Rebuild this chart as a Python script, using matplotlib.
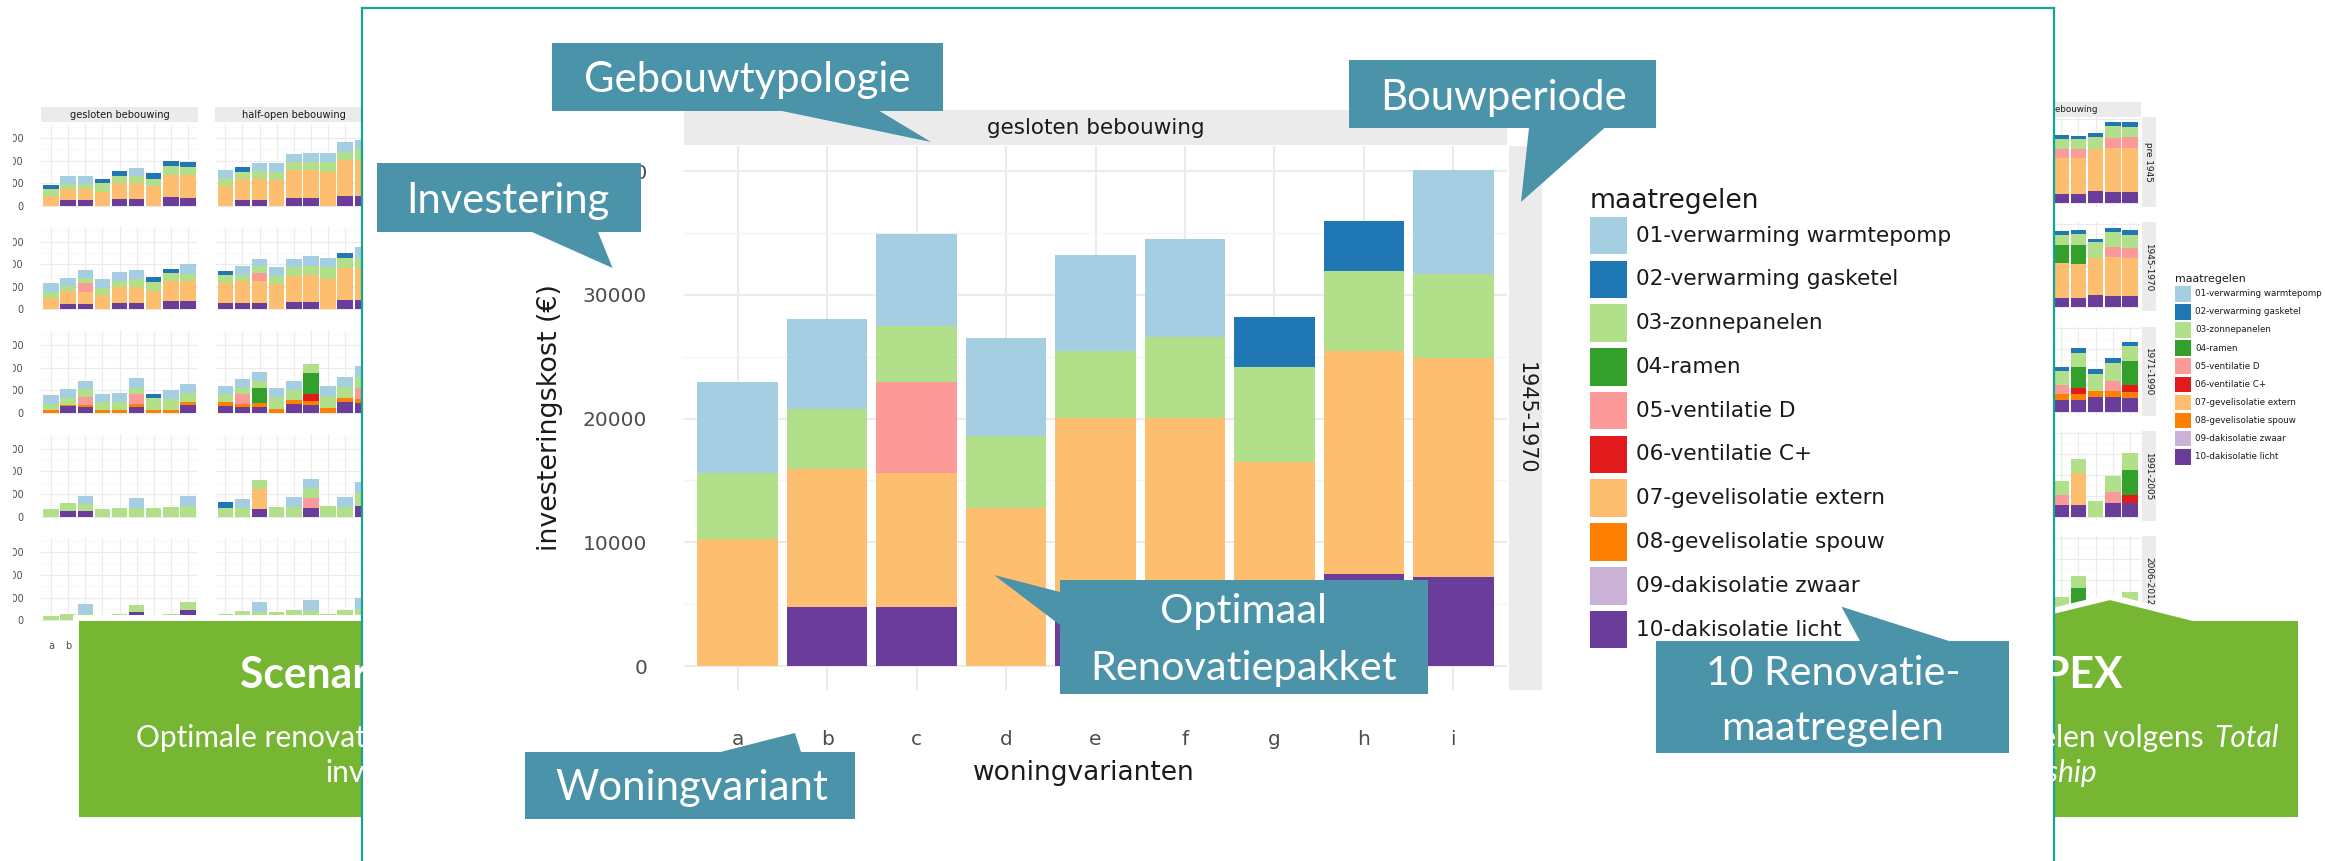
import matplotlib
matplotlib.use('Agg')
import matplotlib.pyplot as plt
from matplotlib.patches import Rectangle, Polygon
import numpy as np

W, H, DPI = 2325, 861, 100

# ---------------- categories / labels ----------------
MEASURES = ['01-verwarming warmtepomp', '02-verwarming gasketel', '03-zonnepanelen', '04-ramen',
            '05-ventilatie D', '06-ventilatie C+', '07-gevelisolatie extern', '08-gevelisolatie spouw',
            '09-dakisolatie zwaar', '10-dakisolatie licht']
COLORS = ['#A6CEE3', '#1F78B4', '#B2DF8A', '#33A02C', '#FB9A99', '#E31A1C', '#FDBF6F', '#FF7F00',
          '#CAB2D6', '#6A3D9A']
VARIANTS = ['a', 'b', 'c', 'd', 'e', 'f', 'g', 'h', 'i']
PERIODS = ['pre 1945', '1945-1970', '1971-1990', '1991-2005', '2006-2012']
MAIN_YTICKS = [0, 10000, 20000, 30000, 40000]
SMALL_YTICKS = [0, 20000, 40000, 60000]

# ---------------- main panel: gesloten bebouwing, 1945-1970 (EUR) ----------------
main_01 = [7400, 7250, 7410, 7870, 7740, 7900, 0, 0, 8440]
main_02 = [0, 0, 0, 0, 0, 0, 4040, 4040, 0]
main_03 = [5300, 4900, 4580, 5870, 5420, 6550, 7680, 6440, 6740]
main_05 = [0, 0, 7300, 0, 0, 0, 0, 0, 0]
main_07 = [10300, 11150, 10880, 12750, 14070, 14070, 16520, 18050, 17720]
main_10 = [0, 4750, 4750, 0, 6000, 6000, 0, 7440, 7200]
MAIN = {1: main_01, 2: main_02, 3: main_03, 5: main_05, 7: main_07, 10: main_10}

# ---------------- background chart left (scenario 1) ----------------
ges_pre1945 = {10: [0, 4900, 4900, 0, 5900, 5600, 0, 7500, 6900],
               7: [8500, 9800, 9800, 12100, 14100, 14400, 17100, 19700, 20300],
               3: [6200, 4300, 4900, 7900, 6600, 6600, 6900, 8200, 7500],
               2: [3600, 0, 0, 3600, 4300, 0, 4600, 4600, 3900],
               1: [0, 7500, 7200, 0, 0, 6900, 0, 0, 0]}
ges_1971 = {10: [0, 6000, 5300, 0, 0, 5700, 0, 0, 7300],
            8: [2300, 1300, 2000, 2300, 3000, 2000, 3000, 3000, 2000],
            5: [0, 0, 7000, 0, 0, 9000, 0, 0, 0],
            3: [5300, 6300, 6700, 7000, 7000, 5700, 10300, 9700, 8000],
            2: [0, 0, 0, 0, 0, 0, 3300, 0, 0],
            1: [8000, 7700, 7000, 7700, 8000, 8300, 0, 8000, 8700]}
ges_1991 = {10: [0, 5300, 5300, 0, 0, 0, 0, 0, 0],
            3: [6800, 6500, 5900, 6800, 7700, 7700, 7700, 8900, 9800],
            1: [0, 0, 7100, 0, 0, 8600, 0, 0, 8600]}
ges_2006 = {10: [0, 0, 0, 0, 0, 6800, 0, 0, 8900],
            3: [3900, 5300, 5900, 4400, 5900, 6500, 4400, 5900, 7100],
            1: [0, 0, 8300, 0, 0, 0, 0, 0, 0]}

ho_pre1945 = {10: [0, 5000, 5000, 0, 6500, 6500, 0, 8300, 8300],
              7: [17500, 18900, 18900, 23100, 25500, 24900, 29600, 32000, 32000],
              3: [6800, 6200, 6500, 6500, 6500, 7700, 9500, 7400, 9800],
              2: [0, 3900, 0, 0, 0, 0, 0, 0, 0],
              1: [7400, 0, 7100, 8000, 7700, 8000, 8000, 8600, 8300]}
ho_1945 = {10: [5300, 5300, 5300, 0, 6800, 6800, 0, 8300, 8300],
           7: [18400, 19800, 19800, 22500, 23100, 24000, 27200, 28100, 28100],
           5: [0, 0, 7400, 0, 0, 0, 0, 0, 0],
           3: [7100, 5600, 5600, 7100, 7400, 7400, 10100, 9500, 9500],
           2: [3600, 0, 0, 0, 0, 0, 0, 3600, 0],
           1: [0, 7700, 6800, 8000, 7700, 8900, 8300, 0, 9200]}
ho_1971 = {10: [6200, 5600, 5600, 0, 7700, 7100, 0, 9500, 8600],
           8: [3300, 2700, 3000, 3600, 3900, 3600, 4100, 4100, 4100],
           6: [0, 0, 0, 0, 0, 5900, 0, 0, 0],
           5: [0, 8300, 0, 0, 0, 0, 0, 0, 9200],
           4: [0, 0, 13600, 0, 0, 18400, 0, 0, 0],
           3: [7100, 5300, 6500, 10400, 8600, 8300, 10700, 9500, 10400],
           1: [7100, 8000, 7400, 7700, 8000, 0, 8900, 9200, 8900]}
ho_1991 = {10: [0, 0, 6800, 0, 0, 8000, 0, 0, 9800],
           7: [0, 0, 17800, 0, 0, 0, 0, 0, 0],
           5: [0, 0, 0, 0, 0, 8300, 0, 0, 0],
           3: [8000, 7700, 7400, 8900, 8900, 9200, 9800, 8900, 11300],
           2: [4700, 0, 0, 0, 0, 0, 0, 0, 0],
           1: [0, 7700, 0, 0, 8600, 8000, 0, 8600, 9500]}
ho_2006 = {3: [5900, 8000, 6800, 6800, 8900, 8000, 5900, 8900, 9500],
           1: [0, 0, 9200, 0, 0, 9500, 0, 0, 10100]}

# ---------------- background chart right (scenario 2), open bebouwing, variants e-i ----------------
R_VARIANTS = ['e', 'f', 'g', 'h', 'i']
op_pre1945 = {10: [8300, 8300, 11500, 10200, 10200], 7: [34100, 34800, 39600, 42400, 42400],
              5: [8600, 8300, 0, 9600, 9900], 3: [9900, 9300, 11500, 11200, 10200],
              2: [3800, 3200, 3800, 4200, 4200]}
op_1945 = {10: [8900, 8900, 12100, 10900, 10900], 7: [33200, 32200, 35100, 37300, 36400],
           5: [0, 0, 0, 9300, 9900], 4: [17900, 18800, 0, 0, 0],
           3: [9300, 9900, 15000, 14700, 12100], 2: [4200, 4200, 3500, 3800, 4500]}
op_1971 = {10: [11800, 11800, 14000, 14000, 13400], 8: [5100, 5100, 6100, 6100, 5700],
           6: [0, 5700, 0, 0, 7000], 5: [8600, 0, 0, 9600, 0], 4: [0, 20700, 0, 0, 23000],
           3: [13400, 13700, 16600, 17600, 14000], 2: [3800, 4200, 4200, 4200, 4200]}
op_1991 = {10: [11200, 11200, 0, 13400, 13400], 7: [0, 30300, 0, 0, 0], 6: [0, 0, 0, 0, 7300],
           5: [9600, 0, 0, 9900, 0], 4: [0, 0, 0, 0, 23900], 3: [13400, 13400, 15300, 16000, 16600]}
op_2006 = {10: [11000, 11000, 0, 12000, 13400], 4: [0, 21200, 0, 0, 0],
           3: [12000, 11500, 12000, 8000, 15000]}

LEFT_COLUMNS = [('gesloten bebouwing', [ges_pre1945, MAIN, ges_1971, ges_1991, ges_2006]),
                ('half-open bebouwing', [ho_pre1945, ho_1945, ho_1971, ho_1991, ho_2006])]
RIGHT_COLUMN = ('open bebouwing', [op_pre1945, op_1945, op_1971, op_1991, op_2006])

# ---------------- styling ----------------
GRID = '#EBEBEB'
GRID_MINOR = '#F4F4F4'
STRIP = '#EBEBEB'
TICK_C = '#4D4D4D'
CALLOUT = '#4A93A9'
GREEN = '#76B632'
TEAL = '#17A398'
CAL_FONT = 'Lato'

fig = plt.figure(figsize=(W / DPI, H / DPI), dpi=DPI)
fig.patch.set_facecolor('white')
renderer = fig.canvas.get_renderer()


def px_axes(x0, y0, x1, y1, z):
    ax = fig.add_axes([x0 / W, 1 - y1 / H, (x1 - x0) / W, (y1 - y0) / H])
    ax.set_zorder(z)
    return ax


def overlay(z):
    ax = fig.add_axes([0, 0, 1, 1])
    ax.set_zorder(z)
    ax.set_xlim(0, W)
    ax.set_ylim(H, 0)
    ax.axis('off')
    return ax


def draw_stack(ax, xs, panel, width=0.9):
    bottom = np.zeros(len(xs))
    for m in range(10, 0, -1):
        vals = panel.get(m)
        if vals is None:
            continue
        v = np.asarray(vals, float)
        ax.bar(xs, v, width=width, bottom=bottom, color=COLORS[m - 1], linewidth=0, zorder=2)
        bottom += v


def style_panel(ax, ylim, majors, minors, glw=0.8):
    ax.set_xlim(-0.6, 8.6)
    ax.set_ylim(*ylim)
    ax.set_facecolor('white')
    for sp in ax.spines.values():
        sp.set_visible(False)
    ax.set_xticks(range(9))
    ax.set_yticks(majors)
    ax.set_yticks(minors, minor=True)
    ax.tick_params(which='both', length=0, labelbottom=False, labelleft=False)
    ax.grid(which='major', color=GRID, lw=glw)
    ax.grid(which='minor', axis='y', color=GRID_MINOR, lw=glw * 0.6)
    ax.set_axisbelow(True)


def strip_axes(x0, y0, x1, y1, z, text, size, rot=0):
    ax = px_axes(x0, y0, x1, y1, z)
    ax.set_facecolor(STRIP)
    ax.set_xticks([])
    ax.set_yticks([])
    for sp in ax.spines.values():
        sp.set_visible(False)
    ax.text(0.5, 0.5, text, transform=ax.transAxes, ha='center', va='center',
            rotation=rot, fontsize=size, color='#1A1A1A')
    return ax


def fit_text(ax, x, y, s, target_w, measure=None, **kw):
    t = ax.text(x, y, measure if measure else s, fontsize=20, **kw)
    w = t.get_window_extent(renderer).width
    size = 20 * target_w / w
    t.set_fontsize(size)
    t.set_text(s)
    return t, size


# ================= background chart left =================
L_COLS_X = [(40.7, 198.3), (215.0, 372.6)]
for c, (title, rows) in enumerate(LEFT_COLUMNS):
    x0, x1 = L_COLS_X[c]
    strip_axes(x0, 106.7, x1, 122.4, 1, title, 7.1)
    for r, panel in enumerate(rows):
        top = 123.8 + r * 103.6
        ax = px_axes(x0, top, x1, top + 84, 1)
        style_panel(ax, (-1800, 72600), SMALL_YTICKS, [10000, 30000, 50000, 70000])
        draw_stack(ax, np.arange(9), panel)
        if c == 0:
            ax.tick_params(axis='y', labelleft=True, labelsize=7, labelcolor=TICK_C, pad=12.3)
            ax.set_yticklabels([str(v) for v in SMALL_YTICKS])
        if r == 4:
            ax.tick_params(axis='x', labelbottom=True, labelsize=7, labelcolor=TICK_C, pad=13.5)
            ax.set_xticklabels(VARIANTS)

# ================= background chart right =================
rx0, rx1 = 1982.0, 2140.5
strip_axes(rx0, 102.3, rx1, 116.7, 1, RIGHT_COLUMN[0], 6.3)
rxs = np.array([VARIANTS.index(v) for v in R_VARIANTS])
for r, panel in enumerate(RIGHT_COLUMN[1]):
    top = 117.3 + r * 104.7
    ax = px_axes(rx0, top, rx1, top + 89.4, 1)
    style_panel(ax, (-3830, 81700), [0, 20000, 40000, 60000, 80000], [10000, 30000, 50000, 70000])
    draw_stack(ax, rxs, panel)
    strip_axes(2141.5, top, 2156, top + 89.4, 1, PERIODS[r], 6.4, rot=270)

ovb = overlay(1.5)
ovb.text(2175, 278.7, 'maatregelen', fontsize=7.9, color='#1A1A1A', ha='left', va='center')
for i, (lab, col) in enumerate(zip(MEASURES, COLORS)):
    ktop = 286 + i * 18.1
    ovb.add_patch(Rectangle((2175, ktop), 16, 15.6, facecolor=col, edgecolor='none'))
    ovb.text(2195, ktop + 7.8, lab, fontsize=6.3, color='#1A1A1A', ha='left', va='center')
# slide edges clip the background images
ovb.add_patch(Rectangle((0, 90), 12.5, 570, facecolor='white', edgecolor='none'))
ovb.add_patch(Rectangle((2312, 260), 13, 220, facecolor='white', edgecolor='none'))

# ================= green scenario boxes =================
ovg = overlay(2)
ovg.add_patch(Polygon([(76, 618), (1300, 618), (1300, 820), (76, 820)], closed=True,
                      facecolor=GREEN, edgecolor='white', lw=4.3))
ovg.add_patch(Polygon([(1300, 618), (2024, 618), (2110, 597), (2193, 618), (2301, 618),
                       (2301, 820), (1300, 820)], closed=True,
                      facecolor=GREEN, edgecolor='white', lw=4.3))
_, tsize = fit_text(ovg, 240, 688, 'Scenario 1: CAPEX', 128, measure='Scenar',
                    family=CAL_FONT, fontweight='bold', color='white', ha='left', va='baseline')
_, ssize = fit_text(ovg, 136, 746.7, 'Optimale renovatiepakket voor minimale', 230,
                    measure='Optimale renovat', family=CAL_FONT, color='white', ha='left', va='baseline')
ovg.text(325, 781.7, 'investering', fontsize=ssize, family=CAL_FONT, color='white',
         ha='left', va='baseline')
ovg.text(2123, 688, 'Scenario 2: CAPEX + OPEX', fontsize=tsize, family=CAL_FONT, fontweight='bold',
         color='white', ha='right', va='baseline')
ovg.text(2204, 746.7, 'Optimale renovatiemaatregelen volgens', fontsize=ssize, family=CAL_FONT,
         color='white', ha='right', va='baseline')
ovg.text(2214, 746.7, 'Total', fontsize=ssize, family=CAL_FONT, style='italic',
         color='white', ha='left', va='baseline')
ovg.text(2097, 781.7, 'Cost of Ownership', fontsize=ssize, family=CAL_FONT, style='italic',
         color='white', ha='right', va='baseline')

# main white slide panel
ovg.add_patch(Rectangle((361.5, 7.5), 2053.5 - 361.5, 950, facecolor='white', edgecolor=TEAL, lw=1.6))

# ================= main chart =================
ax = px_axes(684, 146, 1507, 690, 3)
style_panel(ax, (-1940, 42040), MAIN_YTICKS, [5000, 15000, 25000, 35000], glw=1.45)
draw_stack(ax, np.arange(9), MAIN)
ax.tick_params(axis='y', labelleft=True, labelsize=14.5, labelcolor=TICK_C, pad=26.6)
ax.set_yticklabels([str(v) for v in MAIN_YTICKS])
ax.tick_params(axis='x', labelbottom=True, labelsize=14.5, labelcolor=TICK_C, pad=28.6)
ax.set_xticklabels(VARIANTS)

strip_axes(684, 110, 1507, 145, 3, 'gesloten bebouwing', 15.5)
strip_axes(1509, 146, 1542, 690, 3, PERIODS[1], 14.9, rot=270)

ovm = overlay(3.5)
ovm.text(550, 417.5, 'investeringskost (€)', rotation=90, fontsize=19.4, color='#1A1A1A',
         ha='center', va='center')
ovm.text(1084, 773, 'woningvarianten', fontsize=19.0, color='#1A1A1A', ha='center', va='center')
ovm.text(1590, 201, 'maatregelen', fontsize=19.2, color='#1A1A1A', ha='left', va='center')
for i, (lab, col) in enumerate(zip(MEASURES, COLORS)):
    ktop = 216.7 + i * 43.8
    ovm.add_patch(Rectangle((1589.5, ktop), 37.6, 37.5, facecolor=col, edgecolor='none'))
    ovm.text(1636, ktop + 18.8, lab, fontsize=15.6, color='#1A1A1A', ha='left', va='center')

# ================= callouts =================
ovc = overlay(5)
callouts = [
    [(552, 43), (943, 43), (943, 111), (879.5, 111), (931, 142), (782, 111), (552, 111)],
    [(377, 163), (641, 163), (641, 232), (598, 232), (612.6, 268), (532, 232), (377, 232)],
    [(1349, 60), (1656, 60), (1656, 128), (1604.5, 128), (1521, 202), (1529, 128), (1349, 128)],
    [(1060, 580), (1428, 580), (1428, 694), (1060, 694), (1060, 625), (994, 575), (1060, 592)],
    [(525, 752), (720.5, 752), (795, 733), (801, 752), (855, 752), (855, 819), (525, 819)],
    [(1656, 641), (1860, 641), (1841.5, 606.7), (1949, 641), (2009, 641), (2009, 753), (1656, 753)],
]
for pts in callouts:
    ovc.add_patch(Polygon(pts, closed=True, facecolor=CALLOUT, edgecolor='none'))

ckw = dict(family=CAL_FONT, color='white', ha='center', va='baseline')
fit_text(ovc, 747.5, 92, 'Gebouwtypologie', 327, **ckw)
fit_text(ovc, 508, 213, 'Investering', 204, **ckw)
fit_text(ovc, 1503.5, 110, 'Bouwperiode', 247, **ckw)
fit_text(ovc, 691.5, 800, 'Woningvariant', 273, **ckw)
_, osize = fit_text(ovc, 1243.5, 680, 'Renovatiepakket', 307, **ckw)
ovc.text(1243.5, 623, 'Optimaal', fontsize=osize, **ckw)
_, rsize = fit_text(ovc, 1833, 685, '10 Renovatie-', 255, **ckw)
ovc.text(1832, 740, 'maatregelen', fontsize=rsize, **ckw)

fig.savefig('out.png', dpi=DPI, facecolor='white')
